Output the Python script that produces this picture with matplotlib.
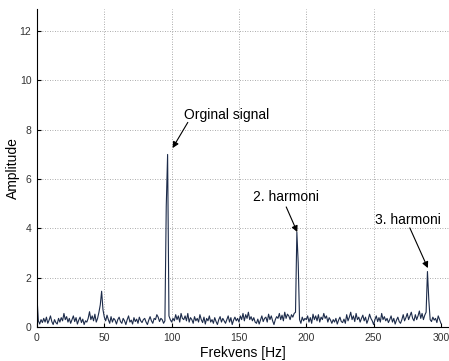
import numpy as np
import matplotlib
matplotlib.use("Agg")
import matplotlib.pyplot as plt

plt.rcParams['font.family'] = ['Liberation Sans', 'DejaVu Sans']

# Frequency axis (Hz), 1 Hz resolution
freq = list(range(0, 301))

# Amplitude spectrum
amplitude = [
    1.2, 0.25, 0.12, 0.3, 0.18, 0.35, 0.2, 0.4, 0.15, 0.28,
    0.45, 0.22, 0.1, 0.3, 0.18, 0.12, 0.35, 0.2, 0.38, 0.25,
    0.55, 0.3, 0.42, 0.2, 0.35, 0.15, 0.3, 0.45, 0.22, 0.38,
    0.12, 0.28, 0.4, 0.18, 0.32, 0.1, 0.25, 0.2, 0.35, 0.62,
    0.3, 0.45, 0.25, 0.52, 0.2, 0.35, 0.6, 0.9, 1.45, 0.7,
    0.4, 0.25, 0.48, 0.3, 0.15, 0.42, 0.2, 0.35, 0.28, 0.12,
    0.3, 0.4, 0.22, 0.15, 0.35, 0.25, 0.1, 0.3, 0.45, 0.2,
    0.28, 0.12, 0.38, 0.22, 0.32, 0.15, 0.4, 0.25, 0.18, 0.3,
    0.35, 0.2, 0.1, 0.28, 0.42, 0.25, 0.15, 0.35, 0.3, 0.5,
    0.4, 0.22, 0.35, 0.3, 0.15, 0.25, 4.9, 7.0, 0.45, 0.3,
    0.2, 0.35, 0.25, 0.5, 0.3, 0.45, 0.2, 0.55, 0.35, 0.3,
    0.45, 0.25, 0.55, 0.2, 0.38, 0.3, 0.15, 0.42, 0.25, 0.35,
    0.2, 0.5, 0.3, 0.18, 0.4, 0.12, 0.35, 0.25, 0.45, 0.2,
    0.3, 0.15, 0.38, 0.22, 0.1, 0.3, 0.42, 0.2, 0.35, 0.25,
    0.15, 0.3, 0.45, 0.2, 0.38, 0.1, 0.28, 0.4, 0.25, 0.35,
    0.2, 0.45, 0.3, 0.55, 0.25, 0.5, 0.35, 0.6, 0.3, 0.42,
    0.25, 0.38, 0.2, 0.15, 0.32, 0.12, 0.28, 0.45, 0.22, 0.35,
    0.4, 0.2, 0.52, 0.3, 0.45, 0.25, 0.1, 0.3, 0.42, 0.35,
    0.55, 0.3, 0.48, 0.25, 0.6, 0.35, 0.52, 0.45, 0.3, 0.5,
    0.4, 0.55, 0.6, 3.85, 2.6, 0.3, 0.15, 0.4, 0.25, 0.35,
    0.3, 0.45, 0.2, 0.38, 0.15, 0.52, 0.3, 0.45, 0.25, 0.5,
    0.2, 0.4, 0.3, 0.55, 0.35, 0.45, 0.2, 0.38, 0.28, 0.15,
    0.3, 0.2, 0.35, 0.12, 0.28, 0.4, 0.22, 0.18, 0.32, 0.15,
    0.5, 0.25, 0.4, 0.6, 0.3, 0.45, 0.22, 0.55, 0.3, 0.4,
    0.2, 0.35, 0.48, 0.25, 0.4, 0.15, 0.3, 0.52, 0.35, 0.25,
    0.1, 0.3, 0.45, 0.22, 0.38, 0.2, 0.55, 0.3, 0.42, 0.25,
    0.35, 0.18, 0.3, 0.45, 0.2, 0.35, 0.12, 0.28, 0.4, 0.22,
    0.15, 0.3, 0.5, 0.25, 0.38, 0.55, 0.3, 0.45, 0.6, 0.35,
    0.25, 0.5, 0.3, 0.45, 0.65, 0.35, 0.55, 0.3, 0.48, 0.6,
    2.25, 1.1, 0.3, 0.22, 0.4, 0.28, 0.35, 0.18, 0.45, 0.3, 0.15,
]

xticks = [0, 50, 100, 150, 200, 250, 300]
yticks = [0, 2, 4, 6, 8, 10, 12]

# Annotations: label, text position, arrow start, arrow tip
ann_labels = ["Orginal signal", "2. harmoni", "3. harmoni"]
ann_text_xy = [(109, 8.6), (160.4, 5.27), (250.7, 4.34)]
ann_start_xy = [(112, 8.3), (185.1, 4.87), (276.9, 4.02)]
ann_tip_xy = [(100.7, 7.26), (193.3, 3.85), (290.3, 2.39)]

fig = plt.figure(figsize=(4.49, 3.61), dpi=100)
ax = fig.add_axes([37 / 449, 34 / 361, 412 / 449, 318 / 361])

ax.plot(freq, amplitude, color='#1c2b4a', lw=0.8)

ax.set_xlim(0, 306)
ax.set_ylim(0, 12.9)
ax.set_xticks(xticks)
ax.set_yticks(yticks)
ax.tick_params(direction='in', length=3, labelsize=7.5, colors='black',
               labelcolor='#333333', pad=4)

for s in ['top', 'right']:
    ax.spines[s].set_visible(False)
ax.spines['left'].set_linewidth(0.8)
ax.spines['bottom'].set_linewidth(0.8)

ax.grid(True, color='#909090', linestyle=(0, (1, 2)), linewidth=0.6)
xg = ax.get_xgridlines()
xg[0].set_visible(False)
xg[-1].set_visible(False)
ax.get_ygridlines()[0].set_visible(False)

ax.set_xlabel('Frekvens [Hz]', fontsize=10, va='center')
ax.xaxis.set_label_coords(0.5, (327 - 353) / 318)
ax.set_ylabel('Amplitude', fontsize=10, va='center')
ax.yaxis.set_label_coords((13 - 37) / 412, 0.5 + (180 - 168) / 318 * 0)

for lab, txy, sxy, pxy in zip(ann_labels, ann_text_xy, ann_start_xy, ann_tip_xy):
    ax.text(txy[0], txy[1], lab, fontsize=10, ha='left', va='center')
    ax.annotate('', xy=pxy, xytext=sxy,
                arrowprops=dict(arrowstyle='-|>', color='black', lw=0.8,
                                mutation_scale=9, shrinkA=0, shrinkB=0))

fig.savefig('out.png', dpi=100)
